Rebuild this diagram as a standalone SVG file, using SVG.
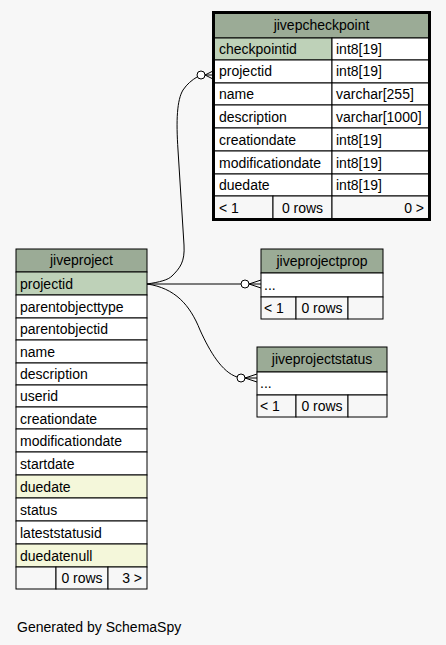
<svg xmlns="http://www.w3.org/2000/svg" width="446" height="645" viewBox="0 0 446 645">
<style>
text{font-family:"Liberation Sans",Arial,Helvetica,sans-serif;font-size:14px;fill:#000}
.c{text-anchor:middle}
.r{text-anchor:end}
.hd{fill:#9bab96;stroke:#000;stroke-width:1}
.pk{fill:#bed1b8;stroke:#000;stroke-width:1}
.row{fill:#fff;stroke:#000;stroke-width:1}
.idx{fill:#f4f7da;stroke:#000;stroke-width:1}
.ft{fill:#f7f7f7;stroke:#000;stroke-width:1}
.edge{fill:none;stroke:#000;stroke-width:1}
.dot{fill:#fff;stroke:#000;stroke-width:1}
</style>
<rect width="446" height="645" fill="#f7f7f7"/>
<g id="connectors">
<path class="edge" d="M147,284 C160,282 168,280 172,276 C180,268 185,262 184,245 L178,150 C176,120 177,100 183,90 C187,84 192,80 197,77"/>
<circle class="dot" cx="201" cy="75" r="4"/>
<path class="edge" d="M205,75 L213,71 M205,75 L213,75 M205,75 L213,79"/>
<path class="edge" d="M147,284 L241,284"/>
<circle class="dot" cx="245" cy="284" r="4"/>
<path class="edge" d="M249,284 L261,280 M249,284 L261,284 M249,284 L261,288"/>
<path class="edge" d="M147,284 C175,288 190,305 200,330 C210,352 222,372 237,377"/>
<circle class="dot" cx="241" cy="378" r="4"/>
<path class="edge" d="M245,378 L257,374 M245,378 L257,378 M245,378 L257,382"/>
</g>
<g id="jivepcheckpoint">
<rect class="hd" x="214" y="13" width="215" height="25"/>
<text class="c" x="321.5" y="30">jivepcheckpoint</text>
<rect class="pk" x="214" y="38" width="118" height="22"/>
<rect class="row" x="332" y="38" width="97" height="22"/>
<text x="219" y="54">checkpointid</text><text x="336" y="54">int8[19]</text>
<rect class="row" x="214" y="60" width="118" height="23"/>
<rect class="row" x="332" y="60" width="97" height="23"/>
<text x="219" y="76">projectid</text><text x="336" y="76">int8[19]</text>
<rect class="row" x="214" y="83" width="118" height="22"/>
<rect class="row" x="332" y="83" width="97" height="22"/>
<text x="219" y="99">name</text><text x="336" y="99">varchar[255]</text>
<rect class="row" x="214" y="105" width="118" height="23"/>
<rect class="row" x="332" y="105" width="97" height="23"/>
<text x="219" y="122">description</text><text x="336" y="122">varchar[1000]</text>
<rect class="row" x="214" y="128" width="118" height="23"/>
<rect class="row" x="332" y="128" width="97" height="23"/>
<text x="219" y="145">creationdate</text><text x="336" y="145">int8[19]</text>
<rect class="row" x="214" y="151" width="118" height="23"/>
<rect class="row" x="332" y="151" width="97" height="23"/>
<text x="219" y="168">modificationdate</text><text x="336" y="168">int8[19]</text>
<rect class="row" x="214" y="174" width="118" height="22"/>
<rect class="row" x="332" y="174" width="97" height="22"/>
<text x="219" y="190">duedate</text><text x="336" y="190">int8[19]</text>
<rect class="ft" x="214" y="196" width="59" height="23"/>
<rect class="ft" x="273" y="196" width="59" height="23"/>
<rect class="ft" x="332" y="196" width="97" height="23"/>
<text x="219" y="213">&lt; 1</text>
<text class="c" x="302.5" y="213">0 rows</text>
<text class="r" x="424" y="213">0 &gt;</text>
<rect x="213.5" y="12.5" width="216" height="207" fill="none" stroke="#000" stroke-width="3"/>
</g>
<g id="jiveproject">
<rect class="hd" x="16" y="249" width="131" height="23"/>
<text class="c" x="81.5" y="265">jiveproject</text>
<rect class="pk" x="16" y="272" width="131" height="23"/>
<text x="20" y="289">projectid</text>
<rect class="row" x="16" y="295" width="131" height="23"/>
<text x="20" y="312">parentobjecttype</text>
<rect class="row" x="16" y="318" width="131" height="22"/>
<text x="20" y="334">parentobjectid</text>
<rect class="row" x="16" y="340" width="131" height="23"/>
<text x="20" y="357">name</text>
<rect class="row" x="16" y="363" width="131" height="22"/>
<text x="20" y="379">description</text>
<rect class="row" x="16" y="385" width="131" height="22"/>
<text x="20" y="401">userid</text>
<rect class="row" x="16" y="407" width="131" height="22"/>
<text x="20" y="424">creationdate</text>
<rect class="row" x="16" y="429" width="131" height="23"/>
<text x="20" y="446">modificationdate</text>
<rect class="row" x="16" y="452" width="131" height="23"/>
<text x="20" y="469">startdate</text>
<rect class="idx" x="16" y="475" width="131" height="23"/>
<text x="20" y="492">duedate</text>
<rect class="row" x="16" y="498" width="131" height="23"/>
<text x="20" y="515">status</text>
<rect class="row" x="16" y="521" width="131" height="23"/>
<text x="20" y="538">lateststatusid</text>
<rect class="idx" x="16" y="544" width="131" height="23"/>
<text x="20" y="561">duedatenull</text>
<rect class="ft" x="16" y="567" width="40" height="22"/>
<rect class="ft" x="56" y="567" width="52" height="22"/>
<rect class="ft" x="108" y="567" width="39" height="22"/>
<text class="c" x="82" y="583">0 rows</text>
<text class="r" x="142" y="583">3 &gt;</text>
</g>
<g id="jiveprojectprop">
<rect class="hd" x="261" y="249" width="122" height="24"/>
<text class="c" x="322" y="266">jiveprojectprop</text>
<rect class="row" x="261" y="273" width="122" height="24"/>
<text x="264" y="290">...</text>
<rect class="ft" x="261" y="297" width="35" height="22"/>
<rect class="ft" x="296" y="297" width="52" height="22"/>
<rect class="ft" x="348" y="297" width="35" height="22"/>
<text x="264" y="313">&lt; 1</text>
<text class="c" x="322" y="313">0 rows</text>
</g>
<g id="jiveprojectstatus">
<rect class="hd" x="257" y="347" width="130" height="25"/>
<text class="c" x="322" y="364">jiveprojectstatus</text>
<rect class="row" x="257" y="372" width="130" height="23"/>
<text x="260" y="388">...</text>
<rect class="ft" x="257" y="395" width="39" height="22"/>
<rect class="ft" x="296" y="395" width="52" height="22"/>
<rect class="ft" x="348" y="395" width="39" height="22"/>
<text x="260" y="411">&lt; 1</text>
<text class="c" x="322" y="411">0 rows</text>
</g>
<text x="17" y="632">Generated by SchemaSpy</text>
</svg>
